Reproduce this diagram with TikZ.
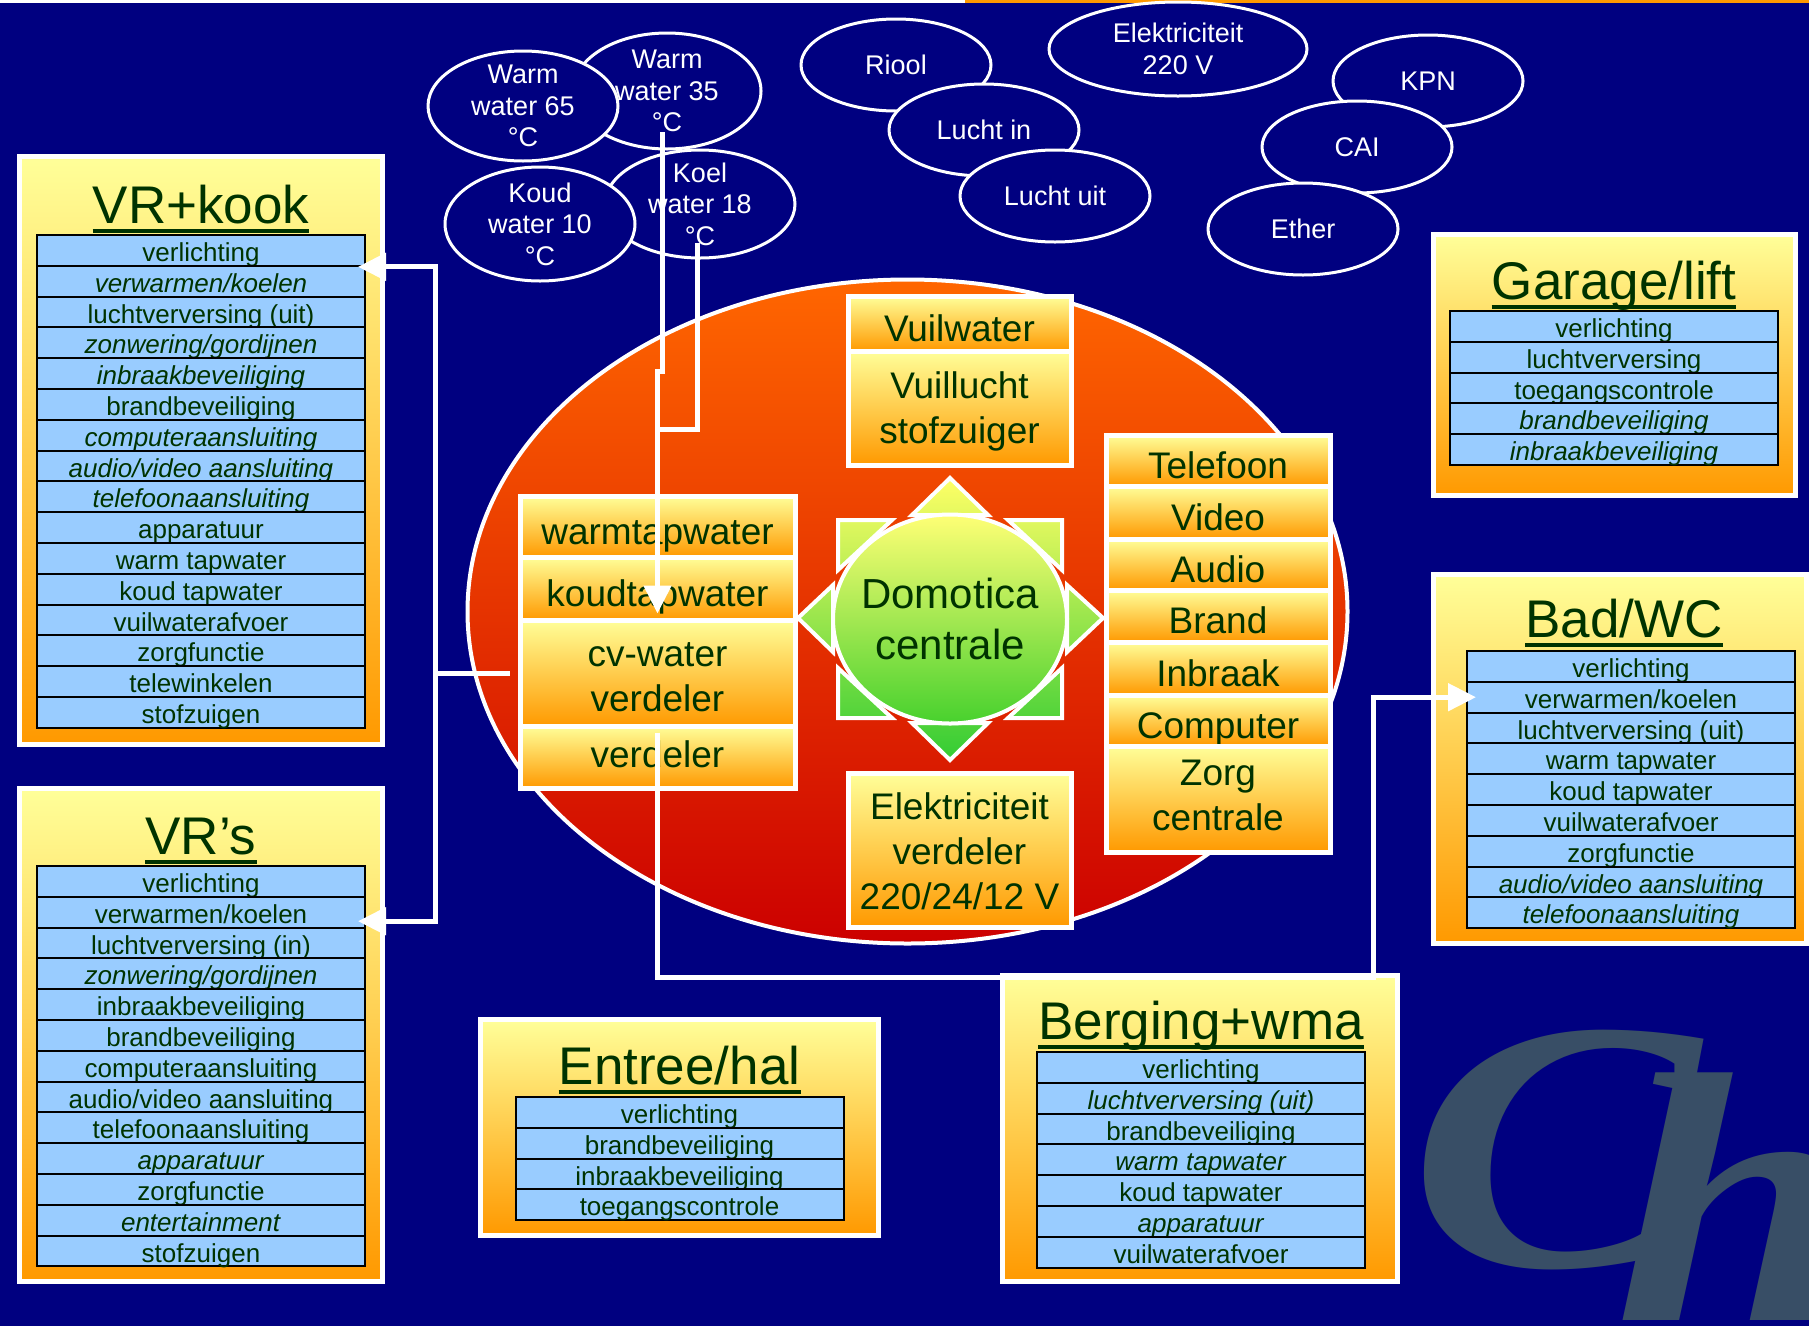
\documentclass[tikz,border=0pt]{standalone}
\usepackage{fontspec}
\setmainfont{Liberation Sans}
\newfontfamily\markfont{Liberation Serif}
\usetikzlibrary{shapes.geometric,arrows.meta}

\definecolor{bgnavy}{RGB}{0,0,128}
\definecolor{deepgreen}{RGB}{0,51,0}
\definecolor{listblue}{RGB}{153,204,255}
\definecolor{paleyellow}{RGB}{255,255,153}
\definecolor{deeporange}{RGB}{255,153,0}
\definecolor{hotorange}{RGB}{255,102,0}
\definecolor{deepred}{RGB}{204,0,0}
\definecolor{sunyellow}{RGB}{255,255,102}
\definecolor{sungreen}{RGB}{51,204,51}
\definecolor{markslate}{RGB}{56,78,102}

% cell text, lowered a little inside its cell
\newcommand{\celltxt}[2]{\raisebox{-#1}[\height][\depth]{\begin{tabular}{@{}c@{}}#2\end{tabular}}}

\tikzset{
  roombox/.style={rectangle,draw=white,line width=5pt,top color=paleyellow,bottom color=deeporange,inner sep=0pt},
  roomtitle/.style={anchor=base,inner sep=0pt,text=deepgreen,font=\fontsize{53}{60}\selectfont},
  titleline/.style={draw=deepgreen,line width=4pt},
  listrow/.style={rectangle,draw=black,line width=2pt,fill=listblue,minimum width=328pt,minimum height=30.8pt,
    inner sep=0pt,text height=24pt,text depth=2pt,text=deepgreen,font=\fontsize{26}{30}\selectfont},
  cell/.style={rectangle,draw=white,line width=5pt,top color=paleyellow,bottom color=deeporange,inner sep=0pt,
    text=deepgreen,font=\fontsize{37}{45}\selectfont},
  bubble/.style={ellipse,draw=white,line width=3pt,fill=bgnavy,inner sep=-10pt,align=center,text=white,
    font=\fontsize{27}{31.5}\selectfont},
  wmletter/.style={anchor=base west,inner sep=0pt,text=markslate,font=\markfont\bfseries\itshape\fontsize{357}{357}\selectfont},
  pipe/.style={draw=white,line width=5pt},
  pipehead/.style={-{Triangle[length=28pt,width=27pt]}},
}

\begin{document}
\begin{tikzpicture}[x=1pt,y=-1pt]
\path[use as bounding box] (0,0) rectangle (1809,1326);
\clip (0,0) rectangle (1809,1326);
\fill[bgnavy] (0,0) rectangle (1809,1326);
\draw[white,line width=3pt] (0,1.5) -- (965,1.5);
\draw[deeporange,line width=3pt] (965,1.5) -- (1809,1.5);
%% watermark
\node[wmletter] (wm_c) at (1409,1266) {\scalebox{1.22}[1]{C}};
\node[wmletter] (wm_h) at (1614,1320) {\scalebox{1.22}[1]{h}};
%% supply bubbles
\node[bubble,minimum width=188pt,minimum height=116pt] (w35) at (667,91) {Warm\\water 35\\°C};
\node[bubble,minimum width=190pt,minimum height=110pt] (w65) at (523,106) {Warm\\water 65\\°C};
\node[bubble,minimum width=190pt,minimum height=108pt] (k18) at (700,204) {Koel\\water 18\\°C};
\node[bubble,minimum width=190pt,minimum height=114pt] (k10) at (540,224) {Koud\\water 10\\°C};
\node[bubble,minimum width=190pt,minimum height=92pt] (riool) at (896,65) {Riool};
\node[bubble,minimum width=190pt,minimum height=92pt] (luchtin) at (984,130) {Lucht in};
\node[bubble,minimum width=190pt,minimum height=92pt] (luchtuit) at (1055,196) {Lucht uit};
\node[bubble,minimum width=258pt,minimum height=94pt] (elek220) at (1178,49) {Elektriciteit\\220 V};
\node[bubble,minimum width=190pt,minimum height=92pt] (kpn) at (1428,81) {KPN};
\node[bubble,minimum width=190pt,minimum height=92pt] (cai) at (1357,147) {CAI};
\node[bubble,minimum width=190pt,minimum height=92pt] (ether) at (1303,229) {Ether};
%% core
\node[ellipse,minimum width=880pt,minimum height=664pt,draw=white,line width=4pt,
  top color=hotorange,bottom color=deepred] (core) at (907.5,611.5) {};
\path[draw=white,line width=4pt,top color=sunyellow,bottom color=sungreen]
  (950,478) -- (912,515) -- (988,515) -- cycle
  (950,760) -- (912,723) -- (988,723) -- cycle
  (798,618) -- (833,585) -- (833,652) -- cycle
  (1103,618) -- (1067,585) -- (1067,652) -- cycle
  (838,520) -- (892,520) -- (838,570) -- cycle
  (1062,520) -- (1008,520) -- (1062,570) -- cycle
  (838,718) -- (892,718) -- (838,668) -- cycle
  (1062,718) -- (1008,718) -- (1062,668) -- cycle;
\node[ellipse,minimum width=234pt,minimum height=209pt,draw=white,line width=4pt,
  top color=sunyellow!90!white,bottom color=sungreen!90!yellow,inner xsep=-20pt,inner ysep=0pt,align=center,
  text=deepgreen,font=\fontsize{42}{51}\selectfont] (domotica) at (950,619) {Domotica\\centrale};
%% distributors
\node[cell,minimum width=223pt,minimum height=55pt] (vuilw) at (959.5,323.5) {\celltxt{8.5pt}{Vuilwater}};
\node[cell,minimum width=223pt,minimum height=114pt] (vuill) at (959.5,408) {\celltxt{4pt}{Vuillucht\\stofzuiger}};
\node[cell,minimum width=223pt,minimum height=154pt] (elekv) at (959.5,850) {\celltxt{5pt}{Elektriciteit\\verdeler\\220/24/12 V}};
\node[cell,minimum width=275pt,minimum height=61pt] (warm) at (657.5,526.5) {\celltxt{8.5pt}{warmtapwater}};
\node[cell,minimum width=275pt,minimum height=63pt] (koud) at (657.5,588.5) {\celltxt{8.5pt}{koudtapwater}};
\node[cell,minimum width=275pt,minimum height=106pt] (cv) at (657.5,673) {\celltxt{7pt}{cv-water\\verdeler}};
\node[cell,minimum width=275pt,minimum height=62pt] (verd) at (657.5,757) {\celltxt{1pt}{verdeler}};
\node[cell,minimum width=224pt,minimum height=51pt] (tel) at (1218,460.5) {\celltxt{8.5pt}{Telefoon}};
\node[cell,minimum width=224pt,minimum height=53pt] (video) at (1218,512.5) {\celltxt{8.5pt}{Video}};
\node[cell,minimum width=224pt,minimum height=51pt] (audio) at (1218,564.5) {\celltxt{8.5pt}{Audio}};
\node[cell,minimum width=224pt,minimum height=52pt] (brand) at (1218,616) {\celltxt{8.5pt}{Brand}};
\node[cell,minimum width=224pt,minimum height=53pt] (inbraak) at (1218,668.5) {\celltxt{8.5pt}{Inbraak}};
\node[cell,minimum width=224pt,minimum height=51pt] (computer) at (1218,720.5) {\celltxt{8.5pt}{Computer}};
\node[cell,minimum width=224pt,minimum height=106pt] (zorg) at (1218,799) {\celltxt{0pt}{Zorg\\centrale}};
%% VR+kook
\node[roombox,minimum width=363pt,minimum height=588pt] (vrk) at (201,450.5) {};
\node[roomtitle] (vrk_title) at (201,223) {VR+kook};
\draw[titleline] ([yshift=-7.5pt]vrk_title.base west) -- ([yshift=-7.5pt]vrk_title.base east);
\foreach \txt [count=\i] in {verlichting, \textit{verwarmen/koelen}, luchtverversing (uit),
  \textit{zonwering/gordijnen}, \textit{inbraakbeveiliging}, brandbeveiliging, \textit{computeraansluiting},
  \textit{audio/video aansluiting}, \textit{telefoonaansluiting}, apparatuur, warm tapwater, koud tapwater,
  vuilwaterafvoer, zorgfunctie, telewinkelen, stofzuigen}
  \node[listrow] (vrk_\i) at (201,{250.4+(\i-1)*30.8}) {\txt};
%% VR's
\node[roombox,minimum width=363pt,minimum height=493pt] (vrs) at (201,1035) {};
\node[roomtitle] (vrs_title) at (201,854) {VR’s};
\draw[titleline] ([yshift=-7.5pt]vrs_title.base west) -- ([yshift=-7.5pt]vrs_title.base east);
\foreach \txt [count=\i] in {verlichting, verwarmen/koelen, luchtverversing (in), \textit{zonwering/gordijnen},
  inbraakbeveiliging, brandbeveiliging, computeraansluiting, audio/video aansluiting, telefoonaansluiting,
  \textit{apparatuur}, zorgfunctie, \textit{entertainment}, stofzuigen}
  \node[listrow] (vrs_\i) at (201,{881.4+(\i-1)*30.8}) {\txt};
%% Entree/hal
\node[roombox,minimum width=398pt,minimum height=216pt] (entree) at (679.5,1127.5) {};
\node[roomtitle] (entree_title) at (679.5,1084) {Entree/hal};
\draw[titleline] ([yshift=-7.5pt]entree_title.base west) -- ([yshift=-7.5pt]entree_title.base east);
\foreach \txt [count=\i] in {verlichting, brandbeveiliging, inbraakbeveiliging, toegangscontrole}
  \node[listrow] (entree_\i) at (679.5,{1112.4+(\i-1)*30.8}) {\txt};
%% Berging+wma
\node[roombox,minimum width=395pt,minimum height=306pt] (berging) at (1200,1128.5) {};
\node[roomtitle] (berging_title) at (1201,1039) {Berging+wma};
\draw[titleline] ([yshift=-7.5pt]berging_title.base west) -- ([yshift=-7.5pt]berging_title.base east);
\foreach \txt [count=\i] in {verlichting, \textit{luchtverversing (uit)}, brandbeveiliging, \textit{warm tapwater},
  koud tapwater, \textit{apparatuur}, vuilwaterafvoer}
  \node[listrow] (berging_\i) at (1201,{1067.4+(\i-1)*30.8}) {\txt};
%% Garage/lift
\node[roombox,minimum width=362pt,minimum height=261pt] (garage) at (1614.5,365) {};
\node[roomtitle] (garage_title) at (1614,299) {Garage/lift};
\draw[titleline] ([yshift=-7.5pt]garage_title.base west) -- ([yshift=-7.5pt]garage_title.base east);
\foreach \txt [count=\i] in {verlichting, luchtverversing, toegangscontrole, \textit{brandbeveiliging},
  \textit{inbraakbeveiliging}}
  \node[listrow] (garage_\i) at (1614,{326.4+(\i-1)*30.8}) {\txt};
%% Bad/WC
\node[roombox,minimum width=373pt,minimum height=369pt] (bad) at (1620,759) {};
\node[roomtitle] (bad_title) at (1624,637) {Bad/WC};
\draw[titleline] ([yshift=-7.5pt]bad_title.base west) -- ([yshift=-7.5pt]bad_title.base east);
\foreach \txt [count=\i] in {verlichting, verwarmen/koelen, luchtverversing (uit), warm tapwater, koud tapwater,
  vuilwaterafvoer, zorgfunctie, \textit{audio/video aansluiting}, \textit{telefoonaansluiting}}
  \node[listrow] (bad_\i) at (1631,{666.4+(\i-1)*30.8}) {\txt};
%% pipes
\coordinate (busL) at (435,673);
\coordinate (busR) at (1373,977);
\draw[pipe,pipehead] ([xshift=-5pt,yshift=-41pt]w35.center) -- ++(0,239) -| ([yshift=9pt]koud.south);
\draw[pipe] ([xshift=-3pt,yshift=-39pt]k18.center) -- ++(0,186) -- (koud.north |- 0,429);
\draw[pipe] ([xshift=-8pt]cv.west) -- (busL);
\draw[pipe,pipehead] (busL) |- ([xshift=-8pt]vrk_1.south east);
\draw[pipe,pipehead] (busL) |- ([xshift=-8pt,yshift=-9pt]vrs_2.east);
\draw[pipe,pipehead] ([yshift=-9pt]verd.north) |- (busR) |- ([xshift=10pt]bad_2.west);
\end{tikzpicture}
\end{document}
